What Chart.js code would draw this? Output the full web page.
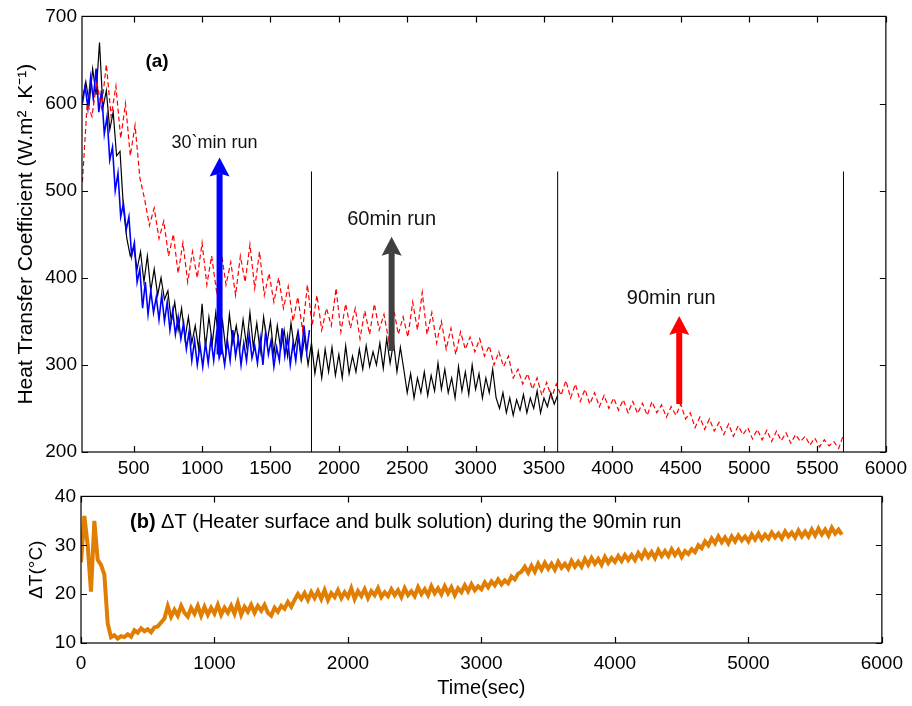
<!DOCTYPE html>
<html>
<head>
<meta charset="utf-8">
<title>Heat transfer coefficient and ΔT</title>
<script src="https://cdn.jsdelivr.net/npm/chart.js@4.4.1/dist/chart.umd.min.js"></script>
<style>
  html, body { margin: 0; padding: 0; background: #fff; }
  #wrap { position: relative; width: 912px; height: 706px; }
  canvas { position: absolute; left: 0; }
  #topChart { top: 0; }
  #bottomChart { top: 480px; }
</style>
</head>
<body>
<div id="wrap">
  <canvas id="topChart" width="912" height="480"></canvas>
  <canvas id="bottomChart" width="912" height="226"></canvas>
</div>
<script>
// --- datos ---

// (a) coeficiente de transferencia de calor, muestreo regular en segundos
const blueStart = 125, blueStep = 20;   // corrida de 30 min
const blueHtc = [
  600, 620, 595, 630, 605, 640, 590, 615, 565, 585, 535, 550, 500, 520, 470, 485,
  455, 470, 425, 440, 395, 410, 365, 395, 358, 385, 360, 378, 352, 380, 350, 372,
  340, 362, 335, 355, 330, 348, 318, 338, 305, 328, 300, 322, 298, 325, 302, 330,
  305, 335, 308, 320, 300, 328, 305, 340, 310, 330, 300, 325, 305, 335, 308, 322,
  302, 330, 300, 338, 312, 328, 298, 320, 305, 342, 310, 332, 300, 325, 305, 335,
  310, 345, 315, 340
];

const blackStart = 125, blackStep = 25; // corrida de 60 min
const blackHtc = [
  605, 625, 600, 640, 610, 670, 595, 615, 570, 590, 540, 545, 480, 445, 425, 435,
  410, 430, 395, 425, 385, 410, 380, 400, 375, 385, 350, 372, 340, 365, 330, 355,
  325, 345, 318, 370, 320, 355, 325, 360, 322, 350, 315, 358, 325, 345, 318, 352,
  322, 360, 320, 348, 315, 355, 325, 350, 312, 345, 318, 340, 310, 348, 318, 338,
  305, 332, 300, 325, 290, 315, 285, 318, 292, 320, 288, 312, 285, 322, 290, 310,
  292, 318, 295, 322, 298, 315, 300, 325, 296, 330, 302, 326, 292, 320, 295, 268,
  290, 262, 285, 268, 292, 265, 288, 270, 302, 272, 295, 268, 285, 262, 298, 270,
  292, 266, 300, 272, 290, 262, 285, 268, 295, 262, 250, 268, 245, 262, 242, 260,
  248, 266, 245, 262, 250, 270, 245, 262, 252, 268, 255, 265
];

const redStart = 125, redStep = 35;     // corrida de 90 min
const redHtc = [
  510, 600, 585, 625, 595, 645, 585, 620, 560, 600, 540, 575, 515, 490, 460, 480,
  445, 465, 425, 450, 405, 440, 395, 430, 400, 440, 392, 425, 385, 430, 392, 418,
  380, 425, 395, 438, 388, 430, 380, 405, 372, 400, 365, 390, 350, 378, 340, 392,
  345, 380, 340, 365, 345, 388, 338, 370, 342, 365, 330, 362, 335, 370, 340, 358,
  328, 365, 335, 355, 332, 372, 340, 383, 335, 360, 325, 350, 318, 342, 312, 338,
  318, 332, 315, 330, 310, 322, 300, 315, 298, 310, 285, 295, 278, 290, 272, 285,
  265, 280, 262, 278, 265, 282, 262, 278, 258, 272, 255, 268, 252, 265, 250, 262,
  248, 260, 245, 258, 244, 256, 242, 258, 245, 254, 240, 252, 242, 255, 238, 245,
  228, 240, 226, 238, 224, 234, 220, 232, 218, 230, 220, 228, 215, 226, 214, 225,
  212, 224, 213, 222, 210, 220, 212, 218, 208, 216, 206, 214, 207, 212, 204, 220
];

// fin de cada corrida (s) y altura de la marca vertical
const runEnds = [1800, 3600, 5690];
const runLineTop = 522;

// flechas de anotacion: tiempo, base, punta, texto
const arrowTimes = [1128, 2386, 4489];
const arrowFrom = [312, 316, 255];
const arrowTo = [538, 447, 356];
const arrowLabels = ['30`min run', '60min run', '90min run'];

// (b) diferencia de temperatura durante la corrida de 90 min
const dtStart = 0, dtStep = 25;
const deltaT = [
  26.5, 36, 30, 20.5, 35, 27, 26, 24, 14, 11.2, 11.6, 10.9, 11.4, 11.2, 11.8, 11.3,
  12.6, 12.1, 13, 12.4, 12.8, 12.2, 13.2, 13.4, 14.2, 15, 17.5, 15.4, 16.8, 15.6, 17.6, 16.2,
  15.4, 17.2, 16, 17.6, 15.6, 17.4, 15.8, 17.2, 16, 17.8, 15.8, 17.2, 16.2, 17.6, 16, 18.2,
  15.8, 17.4, 16.4, 17.8, 16.2, 17.6, 16.6, 17.8, 16.2, 15.6, 17.2, 16.4, 17.6, 17, 18.4, 17.4,
  18.8, 20, 19, 20.2, 18.8, 20.4, 19.2, 20.6, 19, 20.8, 18.8, 20.2, 19.4, 20.8, 19.2, 20.4,
  19.4, 21.2, 19, 20.6, 19.6, 21, 19.2, 20.6, 19.8, 21.2, 19.4, 20.4, 19.6, 21, 19.8, 20.8,
  19.4, 21.2, 19.8, 20.6, 19.6, 21.4, 20, 21, 19.8, 21.6, 20.2, 21.2, 20, 21.6, 20.2, 21.4,
  19.8, 21.2, 20.4, 21.8, 20.6, 22, 20.8, 21.6, 21, 22.4, 21.4, 22.6, 21.8, 23, 22, 22.8,
  22.2, 23.6, 23, 24.2, 24.6, 25.6, 24.4, 25.8, 24.6, 26.2, 25, 26.4, 25.2, 26.2, 25, 26.6,
  25.4, 26.2, 25.2, 26.8, 25.6, 26.6, 25.6, 27.2, 26, 27.4, 26.2, 27.2, 26, 27.6, 26.4, 27.4,
  26.6, 27.8, 26.8, 28, 27, 28, 27, 28.4, 27.4, 28.8, 27.6, 28.6, 27.4, 29, 27.8, 28.8,
  27.8, 29.2, 28, 29, 27.6, 28.8, 28.2, 29.2, 28.6, 30, 29.4, 30.8, 30, 31.4, 30.4, 31.8,
  30.6, 31.6, 30.4, 31.8, 30.8, 32, 31, 31.8, 30.8, 32.2, 31.2, 32.4, 31.2, 32.2, 31.4, 32.6,
  31.6, 32.4, 31.4, 32.8, 31.8, 32.6, 31.6, 33, 31.8, 32.8, 31.8, 33.2, 32, 33.4, 32.2, 33.2,
  32, 33.6, 32.4, 33.2, 32.2
];

// ticks de los ejes
const topXTicks = [500, 1000, 1500, 2000, 2500, 3000, 3500, 4000, 4500, 5000, 5500, 6000];
const topYTicks = [200, 300, 400, 500, 600, 700];
const bottomXTicks = [0, 1000, 2000, 3000, 4000, 5000, 6000];
const bottomYTicks = [10, 20, 30, 40];

// --- estilos ---
const FONT = '"Liberation Sans", Arial, Helvetica, sans-serif';
const arrowColors = ['#0000ff', '#404040', '#ff0000'];
const arrowLabelSize = [18, 20, 20];
const arrowLabelDx = [-5, 0, -8];
const arrowLabelDy = [15, 17, 18];

function toPoints(start, step, values) {
    return values.map((v, i) => ({ x: start + i * step, y: v }));
}

function fixedTicks(list) {
    return (scale) => { scale.ticks = list.map(v => ({ value: v })); };
}

/**
 * Marco tipo MATLAB con ticks hacia adentro en los cuatro lados
 */
const framePlugin = {
    id: 'frame',
    afterDatasetsDraw(chart) {
        const { ctx, chartArea: a, scales: { x, y } } = chart;
        const len = 6;
        ctx.save();
        ctx.strokeStyle = '#000';
        ctx.lineWidth = 1.2;
        ctx.strokeRect(a.left, a.top, a.right - a.left, a.bottom - a.top);
        ctx.beginPath();
        x.ticks.forEach(t => {
            const px = Math.round(x.getPixelForValue(t.value)) + 0.5;
            ctx.moveTo(px, a.bottom); ctx.lineTo(px, a.bottom - len);
            ctx.moveTo(px, a.top); ctx.lineTo(px, a.top + len);
        });
        y.ticks.forEach(t => {
            const py = Math.round(y.getPixelForValue(t.value)) + 0.5;
            ctx.moveTo(a.left, py); ctx.lineTo(a.left + len, py);
            ctx.moveTo(a.right, py); ctx.lineTo(a.right - len, py);
        });
        ctx.stroke();
        ctx.restore();
    }
};

/**
 * Flechas y etiquetas de cada corrida, y la marca (a)
 */
const arrowPlugin = {
    id: 'runArrows',
    afterDatasetsDraw(chart) {
        const { ctx, chartArea: a, scales: { x, y } } = chart;
        ctx.save();
        arrowTimes.forEach((t, i) => {
            const px = x.getPixelForValue(t);
            const yBase = y.getPixelForValue(arrowFrom[i]);
            const yTip = y.getPixelForValue(arrowTo[i]);
            ctx.fillStyle = arrowColors[i];
            ctx.fillRect(px - 3, yTip + 16, 6, yBase - yTip - 16);
            ctx.beginPath();
            ctx.moveTo(px, yTip);
            ctx.lineTo(px - 10, yTip + 19);
            ctx.lineTo(px, yTip + 16);
            ctx.lineTo(px + 10, yTip + 19);
            ctx.closePath();
            ctx.fill();

            ctx.fillStyle = '#111';
            ctx.font = `${arrowLabelSize[i]}px ${FONT}`;
            ctx.textAlign = 'center';
            ctx.textBaseline = 'middle';
            ctx.fillText(arrowLabels[i], px + arrowLabelDx[i], yTip - arrowLabelDy[i]);
        });

        ctx.fillStyle = '#000';
        ctx.font = `bold 19px ${FONT}`;
        ctx.textAlign = 'center';
        ctx.textBaseline = 'middle';
        ctx.fillText('(a)', a.left + 75, a.top + 45);
        ctx.restore();
    }
};

const panelBPlugin = {
    id: 'panelB',
    afterDatasetsDraw(chart) {
        const { ctx, chartArea: a } = chart;
        ctx.save();
        ctx.fillStyle = '#000';
        ctx.textBaseline = 'middle';
        ctx.textAlign = 'left';
        ctx.font = `bold 20px ${FONT}`;
        const lx = a.left + 49, ly = a.top + 26;
        ctx.fillText('(b)', lx, ly);
        const w = ctx.measureText('(b)').width;
        ctx.font = `20px ${FONT}`;
        ctx.fillText(' ΔT (Heater surface and bulk solution) during the 90min run', lx + w, ly);
        ctx.restore();
    }
};

const tickFont = { family: FONT, size: 19 };

/**
 * Grafico superior (a)
 */
function initTopChart() {
    const runLines = runEnds.map(t => ({
        data: [{ x: t, y: 200 }, { x: t, y: runLineTop }],
        borderColor: '#000',
        borderWidth: 1,
        pointRadius: 0,
        order: 4
    }));

    new Chart(document.getElementById('topChart'), {
        type: 'line',
        data: {
            datasets: [
                {
                    label: '90min',
                    data: toPoints(redStart, redStep, redHtc),
                    borderColor: '#ff0000',
                    borderWidth: 1.2,
                    borderDash: [5, 3],
                    pointRadius: 0,
                    order: 0
                },
                {
                    label: '30min',
                    data: toPoints(blueStart, blueStep, blueHtc),
                    borderColor: '#0000ff',
                    borderWidth: 1.6,
                    pointRadius: 0,
                    order: 1
                },
                {
                    label: '60min',
                    data: toPoints(blackStart, blackStep, blackHtc),
                    borderColor: '#000',
                    borderWidth: 1.2,
                    pointRadius: 0,
                    order: 2
                },
                ...runLines
            ]
        },
        options: {
            responsive: false,
            animation: false,
            devicePixelRatio: 1,
            layout: { padding: { top: 15, right: 24, left: 0, bottom: 0 } },
            plugins: { legend: { display: false }, tooltip: { enabled: false } },
            elements: { line: { tension: 0 } },
            scales: {
                x: {
                    type: 'linear',
                    min: 122,
                    max: 6000,
                    afterBuildTicks: fixedTicks(topXTicks),
                    afterFit: s => { s.height = 28; },
                    grid: { display: false, drawTicks: false },
                    border: { display: false },
                    ticks: { font: tickFont, color: '#000', padding: 5, maxRotation: 0, autoSkip: false, callback: v => String(v) }
                },
                y: {
                    min: 200,
                    max: 700,
                    afterBuildTicks: fixedTicks(topYTicks),
                    afterFit: s => { s.width = 82; },
                    grid: { display: false, drawTicks: false },
                    border: { display: false },
                    ticks: { font: tickFont, color: '#000', padding: 5, callback: v => String(v) },
                    title: {
                        display: true,
                        text: 'Heat Transfer Coefficient (W.m² .K⁻¹)',
                        color: '#000',
                        font: { family: FONT, size: 21 },
                        padding: { top: 14, bottom: 0 }
                    }
                }
            }
        },
        plugins: [framePlugin, arrowPlugin]
    });
}

/**
 * Grafico inferior (b)
 */
function initBottomChart() {
    new Chart(document.getElementById('bottomChart'), {
        type: 'line',
        data: {
            datasets: [{
                label: 'ΔT',
                data: toPoints(dtStart, dtStep, deltaT),
                borderColor: '#e17d00',
                borderWidth: 4,
                pointRadius: 0
            }]
        },
        options: {
            responsive: false,
            animation: false,
            devicePixelRatio: 1,
            layout: { padding: { top: 16, right: 25, left: 0, bottom: 0 } },
            plugins: { legend: { display: false }, tooltip: { enabled: false } },
            elements: { line: { tension: 0 } },
            scales: {
                x: {
                    type: 'linear',
                    min: 0,
                    max: 6000,
                    afterBuildTicks: fixedTicks(bottomXTicks),
                    afterFit: s => { s.height = 63; },
                    grid: { display: false, drawTicks: false },
                    border: { display: false },
                    ticks: { font: tickFont, color: '#000', padding: 9, maxRotation: 0, autoSkip: false, callback: v => String(v) },
                    title: {
                        display: true,
                        text: 'Time(sec)',
                        color: '#000',
                        font: { family: FONT, size: 20 },
                        padding: { top: 0, bottom: 6 }
                    }
                },
                y: {
                    min: 10,
                    max: 40,
                    afterBuildTicks: fixedTicks(bottomYTicks),
                    afterFit: s => { s.width = 81; },
                    grid: { display: false, drawTicks: false },
                    border: { display: false },
                    ticks: { font: tickFont, color: '#000', padding: 5, callback: v => String(v) },
                    title: {
                        display: true,
                        text: 'ΔT(°C)',
                        color: '#000',
                        font: { family: FONT, size: 19 },
                        padding: { top: 25, bottom: 0 }
                    }
                }
            }
        },
        plugins: [framePlugin, panelBPlugin]
    });
}

initTopChart();
initBottomChart();
</script>
</body>
</html>
